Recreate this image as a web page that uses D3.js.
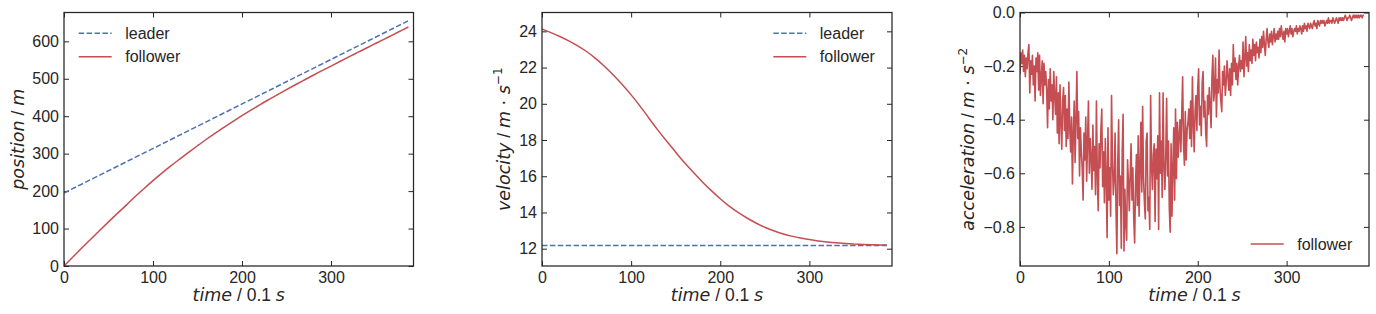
<!DOCTYPE html>
<html><head><meta charset="utf-8">
<script src="https://cdn.jsdelivr.net/npm/d3@7"></script>
<style>body{margin:0;background:#fff}svg{display:block}</style>
</head><body>
<svg id="c" width="1376" height="314"></svg>
<script>
// ---- data ----
const sampleTime = [0,10,20,30,40,50,60,70,80,90,100,110,120,130,140,150,160,170,180,190,200,210,220,230,240,250,260,270,280,290,300,310,320,330,340,350,360,370,380,387];
const followerPos = [0,24.0,47.9,71.4,94.7,117.8,140.5,162.7,185.5,207.0,228.0,248.0,267.3,285.6,303.5,321.2,338.5,355.0,371.0,386.5,401.5,416.0,430.5,444.3,457.8,471.0,484.0,496.8,509.5,521.8,534.0,546.2,558.3,570.3,582.3,594.2,606.1,618.0,630.0,638.3];
const leaderTime = [0,387];
const leaderPos = [195,655];
const followerVel = [24.13,23.93,23.72,23.48,23.2,22.9,22.52,22.08,21.6,21.07,20.5,19.88,19.2,18.54,17.93,17.33,16.73,16.2,15.68,15.2,14.75,14.34,14.0,13.69,13.41,13.18,12.99,12.82,12.69,12.58,12.5,12.43,12.37,12.32,12.29,12.26,12.23,12.22,12.21,12.2];
const leaderVel = [12.17,12.17];
// acceleration, one value per 0.1 s step (t = 0 .. 387)
const followerAcc = [
-0.23,-0.15,-0.19,-0.14,-0.22,-0.16,-0.24,-0.17,-0.21,-0.15,
-0.12,-0.30,-0.18,-0.23,-0.16,-0.27,-0.20,-0.33,-0.17,-0.22,
-0.15,-0.29,-0.16,-0.31,-0.24,-0.18,-0.34,-0.19,-0.27,-0.22,
-0.29,-0.43,-0.25,-0.36,-0.21,-0.33,-0.27,-0.40,-0.22,-0.31,
-0.38,-0.24,-0.45,-0.30,-0.49,-0.27,-0.41,-0.51,-0.33,-0.28,
-0.44,-0.31,-0.50,-0.36,-0.47,-0.26,-0.43,-0.52,-0.39,-0.64,
-0.45,-0.33,-0.56,-0.40,-0.22,-0.47,-0.37,-0.61,-0.43,-0.52,
-0.58,-0.70,-0.45,-0.55,-0.39,-0.63,-0.48,-0.33,-0.60,-0.47,
-0.54,-0.66,-0.42,-0.59,-0.50,-0.68,-0.33,-0.61,-0.74,-0.49,
-0.58,-0.44,-0.36,-0.65,-0.52,-0.71,-0.47,-0.62,-0.84,-0.43,
-0.70,-0.58,-0.76,-0.31,-0.55,-0.68,-0.62,-0.45,-0.73,-0.90,
-0.56,-0.40,-0.72,-0.61,-0.88,-0.52,-0.38,-0.89,-0.66,-0.79,
-0.85,-0.55,-0.63,-0.74,-0.60,-0.49,-0.70,-0.58,-0.77,-0.86,
-0.64,-0.53,-0.72,-0.46,-0.76,-0.58,-0.41,-0.67,-0.35,-0.62,
-0.71,-0.77,-0.48,-0.45,-0.74,-0.69,-0.81,-0.31,-0.57,-0.66,
-0.53,-0.49,-0.78,-0.51,-0.62,-0.46,-0.81,-0.30,-0.60,-0.48,
-0.69,-0.30,-0.57,-0.66,-0.54,-0.32,-0.61,-0.48,-0.73,-0.82,
-0.49,-0.76,-0.58,-0.43,-0.70,-0.36,-0.62,-0.41,-0.54,-0.46,
-0.40,-0.52,-0.38,-0.24,-0.49,-0.57,-0.37,-0.55,-0.44,-0.41,
-0.36,-0.47,-0.33,-0.50,-0.24,-0.41,-0.52,-0.37,-0.31,-0.44,
-0.28,-0.21,-0.42,-0.35,-0.46,-0.26,-0.22,-0.39,-0.33,-0.45,
-0.50,-0.31,-0.38,-0.28,-0.35,-0.43,-0.24,-0.16,-0.33,-0.29,
-0.17,-0.39,-0.25,-0.30,-0.14,-0.28,-0.33,-0.37,-0.22,-0.27,
-0.20,-0.31,-0.26,-0.18,-0.24,-0.29,-0.21,-0.31,-0.19,-0.27,
-0.12,-0.22,-0.17,-0.25,-0.19,-0.27,-0.20,-0.16,-0.22,-0.18,
-0.21,-0.11,-0.24,-0.17,-0.09,-0.20,-0.15,-0.22,-0.12,-0.18,
-0.14,-0.19,-0.10,-0.16,-0.12,-0.18,-0.11,-0.15,-0.13,-0.17,
-0.10,-0.15,-0.09,-0.13,-0.07,-0.12,-0.16,-0.10,-0.06,-0.11,
-0.13,-0.08,-0.11,-0.07,-0.12,-0.09,-0.06,-0.11,-0.08,-0.10,
-0.07,-0.10,-0.06,-0.09,-0.05,-0.08,-0.10,-0.07,-0.11,-0.06,
-0.08,-0.06,-0.09,-0.07,-0.05,-0.08,-0.06,-0.09,-0.07,-0.06,
-0.07,-0.05,-0.08,-0.06,-0.07,-0.05,-0.06,-0.08,-0.05,-0.07,
-0.04,-0.06,-0.05,-0.07,-0.04,-0.05,-0.06,-0.04,-0.05,-0.06,
-0.04,-0.03,-0.05,-0.04,-0.06,-0.03,-0.04,-0.05,-0.03,-0.04,
-0.03,-0.04,-0.03,-0.05,-0.04,-0.03,-0.04,-0.02,-0.04,-0.03,
-0.03,-0.04,-0.02,-0.03,-0.04,-0.03,-0.02,-0.03,-0.04,-0.02,
-0.03,-0.02,-0.03,-0.02,-0.03,-0.02,-0.01,-0.02,-0.03,-0.02,
-0.02,-0.01,-0.02,-0.03,-0.02,-0.01,-0.02,-0.01,-0.02,-0.01,
-0.02,-0.01,-0.02,-0.01,-0.01,-0.02,-0.01,-0.01
];
const timeTicks = [0,100,200,300];
const posTicks = [0,100,200,300,400,500,600];
const velTicks = [12,14,16,18,20,22,24];
const accTicks = [0,-0.2,-0.4,-0.6,-0.8];
const seriesNames = ["leader","follower"];

// ---- style ----
const BLUE = "#4C72B0", RED = "#C44E52", INK = "#262626";
const RM = "'Liberation Sans', Arial, sans-serif";
const MATH = "'DejaVu Sans', sans-serif";
const TICK_FS = 16, LAB_FS = 17.5, LEG_FS = 16;
const TOP = 12.5, BOTTOM = 266;

const svg = d3.select("#c");

function panel(left, right, yDomain, yTicks, yFmt) {
  const g = svg.append("g");
  const x = d3.scaleLinear().domain([0, 392.7]).range([left, right]);
  const y = d3.scaleLinear().domain(yDomain).range([BOTTOM, TOP]);
  const styleAxis = a => {
    a.select(".domain").remove();
    a.selectAll("line").attr("stroke", INK).attr("stroke-width", 1);
    a.selectAll("text").attr("fill", INK).style("font-family", RM).style("font-size", TICK_FS + "px");
  };
  g.append("g").attr("transform", `translate(0,${BOTTOM})`)
    .call(d3.axisBottom(x).tickValues(timeTicks).tickSize(-5).tickPadding(5.5).tickFormat(d3.format("d"))).call(styleAxis);
  g.append("g").attr("transform", `translate(0,${TOP})`)
    .call(d3.axisTop(x).tickValues(timeTicks).tickSize(-5).tickFormat("")).call(styleAxis);
  g.append("g").attr("transform", `translate(${left},0)`)
    .call(d3.axisLeft(y).tickValues(yTicks).tickSize(-5).tickPadding(5).tickFormat(yFmt)).call(styleAxis);
  g.append("g").attr("transform", `translate(${right},0)`)
    .call(d3.axisRight(y).tickValues(yTicks).tickSize(-5).tickFormat("")).call(styleAxis);
  const clipId = "clip" + Math.round(left);
  svg.append("clipPath").attr("id", clipId).append("rect")
    .attr("x", left).attr("y", TOP).attr("width", right - left).attr("height", BOTTOM - TOP);
  const plot = g.append("g").attr("clip-path", `url(#${clipId})`);
  return {g, x, y, plot, left, right};
}

function frame(p) {
  p.g.append("rect").attr("x", p.left).attr("y", TOP).attr("width", p.right - p.left).attr("height", BOTTOM - TOP)
    .attr("fill", "none").attr("stroke", INK).attr("stroke-width", 1.25);
}

function mathText(sel, parts) {
  parts.forEach(pt => {
    const t = sel.append("tspan").text(pt.t);
    if (pt.s === "it") t.style("font-family", MATH).style("font-style", "oblique");
    else if (pt.s === "rm") t.style("font-family", RM);
    else if (pt.s === "sym") t.style("font-family", MATH);
    else if (pt.s === "sup") t.style("font-family", MATH).style("font-size", "12px").attr("dy", "-0.62em");
  });
}

function xLabel(p) {
  const t = p.g.append("text").attr("x", (p.left + p.right) / 2).attr("y", 301)
    .attr("text-anchor", "middle").attr("fill", INK).style("font-size", LAB_FS + "px").style("white-space", "pre");
  mathText(t, [{t:"time", s:"it"}, {t:" / 0.1 ", s:"rm"}, {t:"s", s:"it"}]);
}
function yLabel(p, bx, parts) {
  const cy = (TOP + BOTTOM) / 2;
  const t = p.g.append("text").attr("transform", `translate(${bx},${cy}) rotate(-90)`)
    .attr("text-anchor", "middle").attr("fill", INK).style("font-size", LAB_FS + "px").style("white-space", "pre");
  mathText(t, parts);
}
function legendRow(p, x0, yy, color, dashed, label) {
  const l = p.g.append("line").attr("x1", x0).attr("x2", x0 + 33).attr("y1", yy).attr("y2", yy)
    .attr("stroke", color).attr("stroke-width", 1.5);
  if (dashed) l.attr("stroke-dasharray", "5.5,2.4");
  p.g.append("text").attr("x", x0 + 46.5).attr("y", yy).attr("dy", "0.35em").attr("fill", INK)
    .style("font-family", RM).style("font-size", LEG_FS + "px").text(label);
}

const fmtInt = d3.format("d");
const fmtAcc = d => d3.format(".1f")(d).replace("-", "\u2212");

// ---- panel 1: position ----
const p1 = panel(64, 413.5, [0, 677], posTicks, fmtInt);
const line1 = d3.line().curve(d3.curveMonotoneX);
p1.plot.append("path").attr("d", line1(leaderTime.map((t, i) => [p1.x(t), p1.y(leaderPos[i])])))
  .attr("fill", "none").attr("stroke", BLUE).attr("stroke-width", 1.5).attr("stroke-dasharray", "5.5,2.4");
p1.plot.append("path").attr("d", line1(sampleTime.map((t, i) => [p1.x(t), p1.y(followerPos[i])])))
  .attr("fill", "none").attr("stroke", RED).attr("stroke-width", 1.5);
frame(p1);
xLabel(p1);
yLabel(p1, 23.5, [{t:"position", s:"it"}, {t:" / ", s:"rm"}, {t:"m", s:"it"}]);
legendRow(p1, 78.7, 33.3, BLUE, true, seriesNames[0]);
legendRow(p1, 78.7, 56.7, RED, false, seriesNames[1]);

// ---- panel 2: velocity ----
const p2 = panel(542, 892, [11.045, 25.04], velTicks, fmtInt);
p2.plot.append("path").attr("d", line1(leaderTime.map((t, i) => [p2.x(t), p2.y(leaderVel[i])])))
  .attr("fill", "none").attr("stroke", BLUE).attr("stroke-width", 1.5).attr("stroke-dasharray", "5.5,2.4");
p2.plot.append("path").attr("d", d3.line().curve(d3.curveBasis)(sampleTime.map((t, i) => [p2.x(t), p2.y(followerVel[i])])))
  .attr("fill", "none").attr("stroke", RED).attr("stroke-width", 1.5);
frame(p2);
xLabel(p2);
yLabel(p2, 509.5, [{t:"velocity", s:"it"}, {t:" / ", s:"rm"}, {t:"m", s:"it"}, {t:" \u00B7 ", s:"sym"}, {t:"s", s:"it"}, {t:"\u22121", s:"sup"}]);
legendRow(p2, 773.3, 33.3, BLUE, true, seriesNames[0]);
legendRow(p2, 773.3, 56.7, RED, false, seriesNames[1]);

// ---- panel 3: acceleration ----
const p3 = panel(1020, 1369, [-0.946, 0], accTicks, fmtAcc);
p3.plot.append("path").attr("d", d3.line()(followerAcc.map((a, i) => [p3.x(i), p3.y(a)])))
  .attr("fill", "none").attr("stroke", RED).attr("stroke-width", 1.6).attr("stroke-linejoin", "round");
frame(p3);
xLabel(p3);
yLabel(p3, 974, [{t:"acceleration", s:"it"}, {t:" / ", s:"rm"}, {t:"m", s:"it"}, {t:" \u00B7 ", s:"sym"}, {t:"s", s:"it"}, {t:"\u22122", s:"sup"}]);
legendRow(p3, 1250.7, 244, RED, false, seriesNames[1]);
</script>
</body></html>
